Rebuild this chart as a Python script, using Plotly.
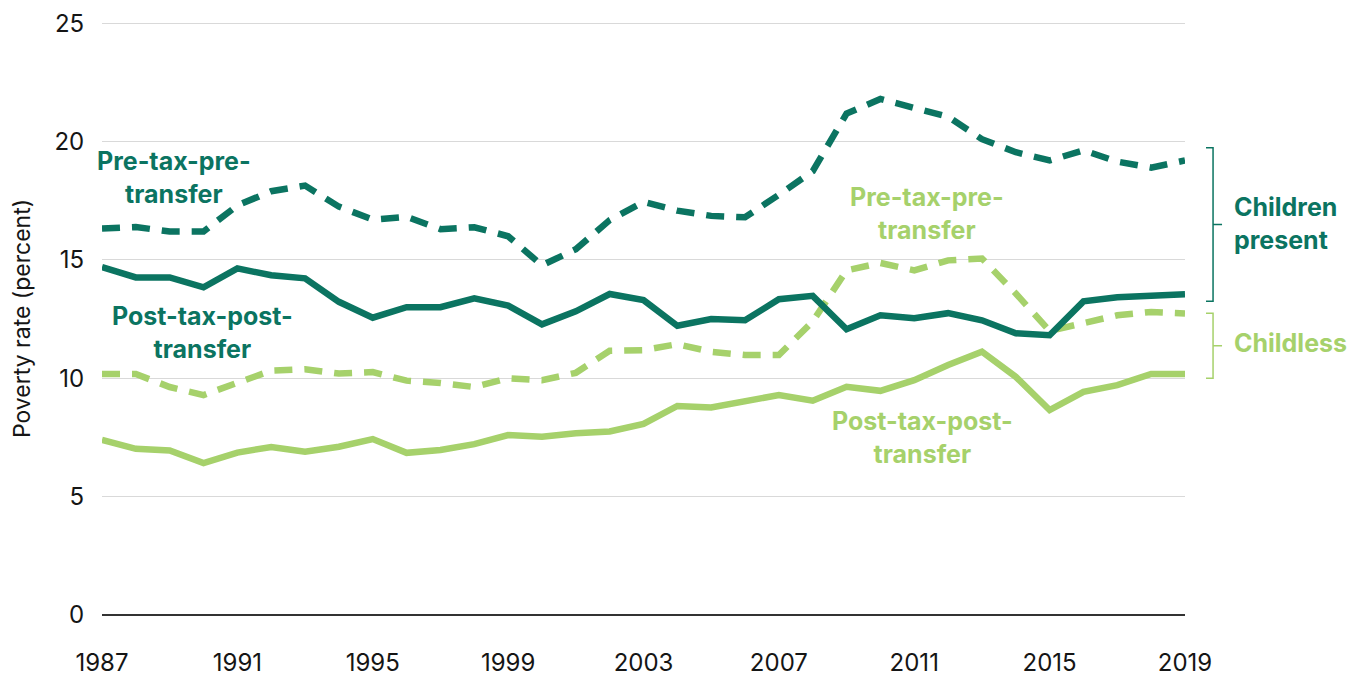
import plotly.graph_objects as go

years = list(range(1987, 2020))

children_pre = [16.33, 16.39, 16.2, 16.2, 17.3, 17.9, 18.14, 17.25, 16.7, 16.82, 16.3,
                16.38, 16.0, 14.77, 15.45, 16.68, 17.45, 17.08, 16.86, 16.8, 17.75, 18.75,
                21.18, 21.8, 21.42, 21.05, 20.1, 19.55, 19.2, 19.63, 19.15, 18.9, 19.2]
children_post = [14.7, 14.26, 14.26, 13.84, 14.64, 14.35, 14.22, 13.23, 12.56, 13.0, 13.0,
                 13.38, 13.07, 12.28, 12.83, 13.56, 13.3, 12.22, 12.5, 12.45, 13.34, 13.48,
                 12.07, 12.66, 12.54, 12.75, 12.45, 11.9, 11.82, 13.25, 13.42, 13.48, 13.55]
childless_pre = [10.18, 10.18, 9.63, 9.29, 9.81, 10.32, 10.38, 10.2, 10.26, 9.9, 9.8,
                 9.63, 10.0, 9.92, 10.23, 11.16, 11.19, 11.44, 11.12, 10.98, 10.98, 12.4,
                 14.56, 14.87, 14.56, 14.98, 15.06, 13.58, 12.0, 12.32, 12.66, 12.8, 12.74]
childless_post = [7.4, 7.02, 6.95, 6.42, 6.86, 7.1, 6.9, 7.11, 7.43, 6.85, 6.97,
                  7.22, 7.6, 7.53, 7.68, 7.75, 8.07, 8.83, 8.77, 9.01, 9.29, 9.05,
                  9.64, 9.47, 9.92, 10.56, 11.12, 10.06, 8.66, 9.43, 9.71, 10.18, 10.18]

x_ticks = [1987, 1991, 1995, 1999, 2003, 2007, 2011, 2015, 2019]
y_ticks = [0, 5, 10, 15, 20, 25]

DARK = "#0B7461"
LIGHT = "#A6D16B"
FONT = "Inter"
TEXT = "#151515"

fig = go.Figure()
series = [
    (childless_post, LIGHT, "solid", "Childless post-tax-post-transfer"),
    (childless_pre, LIGHT, "18px,12px", "Childless pre-tax-pre-transfer"),
    (children_post, DARK, "solid", "Children present post-tax-post-transfer"),
    (children_pre, DARK, "18px,12px", "Children present pre-tax-pre-transfer"),
]
for vals, col, dash, name in series:
    fig.add_trace(go.Scatter(x=years, y=vals, mode="lines", name=name,
                             line=dict(color=col, width=6.5, dash=dash),
                             showlegend=False))

labels = [
    ("Pre-tax-pre-<br>transfer", 1989.13, 18.48, DARK),
    ("Post-tax-post-<br>transfer", 1989.98, 11.93, DARK),
    ("Pre-tax-pre-<br>transfer", 2011.38, 16.98, LIGHT),
    ("Post-tax-post-<br>transfer", 2011.23, 7.5, LIGHT),
]
for txt, xv, yv, col in labels:
    fig.add_annotation(x=xv, y=yv, xref="x", yref="y", text=txt, showarrow=False,
                       font=dict(family=FONT, size=25, color=col, weight="bold"),
                       align="center", xanchor="center", yanchor="middle")

group_labels = [
    ("Children<br>present", 16.52, DARK),
    ("Childless", 11.48, LIGHT),
]
for txt, yv, col in group_labels:
    fig.add_annotation(x=1.0434, y=yv, xref="paper", yref="y", text=txt, showarrow=False,
                       font=dict(family=FONT, size=25, color=col, weight="bold"),
                       align="left", xanchor="left", yanchor="middle")

brackets = [
    (19.74, 13.25, DARK),
    (12.75, 10.0, LIGHT),
]
x0, x1, x2 = 1.0194, 1.0259, 1.0342
for top, bot, col in brackets:
    mid = (top + bot) / 2
    path = (f"M {x0},{top} L {x1},{top} L {x1},{bot} L {x0},{bot} "
            f"M {x1},{mid} L {x2},{mid}")
    fig.add_shape(type="path", path=path, xref="paper", yref="y",
                  line=dict(color=col, width=1.5))

fig.update_layout(
    width=1356, height=671,
    margin=dict(l=94, r=179, t=14, b=64, autoexpand=False),
    paper_bgcolor="white", plot_bgcolor="white",
    font=dict(family=FONT, size=24, color=TEXT),
    xaxis=dict(range=[1987, 2019], tickvals=x_ticks, ticktext=[str(v) for v in x_ticks],
               showgrid=False, zeroline=False, showline=False, automargin=False,
               ticks="outside", ticklen=26, tickcolor="rgba(0,0,0,0)",
               tickfont=dict(family=FONT, size=24, color=TEXT)),
    yaxis=dict(range=[0, 25.05], tickvals=y_ticks, showgrid=True, gridcolor="#d9d9d9",
               gridwidth=1, zeroline=True, zerolinecolor="#333333", zerolinewidth=1.5,
               automargin=False,
               ticks="outside", ticklen=12, tickcolor="rgba(0,0,0,0)",
               tickfont=dict(family=FONT, size=24, color=TEXT),
               title=dict(text="Poverty rate (percent)", standoff=20,
                          font=dict(family=FONT, size=23, color=TEXT))),
)

fig.write_html("out.html")
